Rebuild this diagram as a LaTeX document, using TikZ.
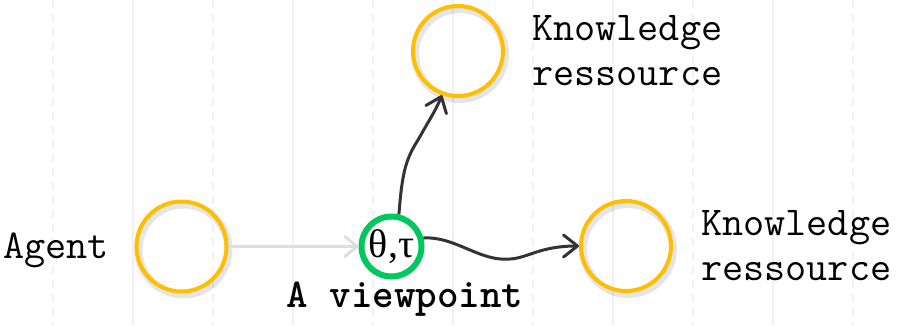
\documentclass[tikz,border=0pt]{standalone}
\usepackage{fontspec}
\newfontfamily\greekfont{Liberation Serif}
\usepackage{tikz}
\usetikzlibrary{arrows.meta}
\usetikzlibrary{shadows}
\definecolor{ringorange}{RGB}{255,190,0}
\definecolor{ringgreen}{RGB}{0,200,95}
\definecolor{gridgray}{RGB}{240,240,240}
\definecolor{linkdark}{RGB}{51,51,51}
\definecolor{linklight}{RGB}{222,222,222}

\begin{document}
\begin{tikzpicture}[x=1pt,y=-1pt,
    ring/.style={circle,draw=ringorange,line width=4pt,minimum size=90pt,inner sep=0pt,
      general shadow={shadow xshift=2pt,shadow yshift=-3pt,draw=black,opacity=.1,line width=8pt}},
    view/.style={circle,draw=ringgreen,line width=6pt,minimum size=60pt,inner sep=0pt,
      font=\greekfont\fontsize{40}{44}\selectfont},
    lbl/.style={font=\ttfamily\fontsize{41}{45}\selectfont,inner sep=0pt,align=left},
    link/.style={linkdark,line width=3pt,-{Straight Barb[length=14pt,width=22pt,round]}},
  ]
    \fill[white] (0,0) rectangle (905,325);
    \useasboundingbox (0,0) rectangle (905,325);
    % faint grid behind
    \foreach \x in {133,293,...,773} \draw[gridgray,line width=1.5pt] (\x,0) -- (\x,325);
    \foreach \x in {53,213,...,853} \draw[gridgray,line width=1.5pt,dash pattern=on 8pt off 6pt] (\x,0) -- (\x,325);
    % circles
    \node[ring] (agent) at (181.5,246.5) {};
    \node[ring] (topk) at (458,51) {};
    \node[ring] (rightk) at (626,246) {};
    \node[view] (vp) at (391.5,246.5) {θ,τ};
    % labels
    \node[lbl,anchor=base west] (agentlbl) at (3,258) {Agent};
    \node[lbl,anchor=west] (toplbl) at (532,51) {Knowledge\\ressource};
    \node[lbl,anchor=west] (rightlbl) at (701,246) {Knowledge\\ressource};
    \node[lbl,anchor=base,font=\ttfamily\bfseries\fontsize{41}{45}\selectfont] (vplbl) at (405,307) {A viewpoint};
    % links
    \draw[linklight,line width=3pt,-{Straight Barb[length=12pt,width=20pt,round]}] (agent) -- (vp);
    \draw[link] (vp.77) .. controls (402,175) and (405,160) .. (418,140) .. controls (428,122) and (436,110) .. (topk.250);
    \draw[link] (vp.15) .. controls (455,236) and (480,262) .. (510,259) .. controls (528,258) and (540,246) .. (rightk.west);
  \end{tikzpicture}
\end{document}
